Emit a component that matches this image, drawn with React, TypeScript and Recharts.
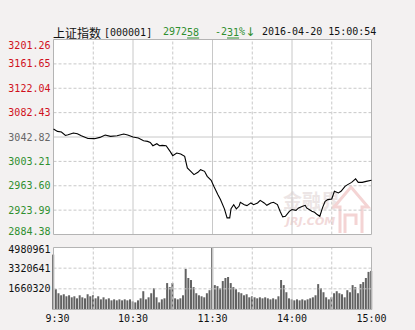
import React from "react";
import { LineChart, Line, BarChart, Bar, XAxis, YAxis, ReferenceLine } from "recharts";

const PREV_CLOSE = 3042.82;
const priceTicks = [2884.38, 2923.99, 2963.6, 3003.21, 3042.82, 3082.43, 3122.04, 3161.65, 3201.26];
const pctLabels = ["-5.21%", "-3.91%", "-2.60%", "-1.30%", "0.00%", "+1.30%", "+2.60%", "+3.91%", "+5.21%"];
const volTicks = [0, 1660320, 3320641, 4980961];
const timeTicks = [0, 60, 120, 180, 240];
const timeLabels = ["9:30", "10:30", "11:30", "14:00", "15:00"];
const halfHours = [30, 90, 150, 210];
const hours = [60, 120, 180];

// minutes since 9:30 (lunch break collapsed) and index level
const priceMinutes = [
  0, 3, 6, 9, 11, 15, 18, 21, 26, 31, 35, 39, 43, 48, 53, 56, 60, 64, 68, 71, 73, 75, 78, 80, 82, 85, 88, 90, 93, 96,
  99, 101, 104, 106, 109, 111, 114, 116, 119, 121, 124, 126, 129, 131, 133, 134, 136, 138, 140, 141, 144, 146, 149, 151,
  154, 156, 159, 161, 164, 166, 169, 171, 173, 175, 178, 180, 183, 185, 188, 190, 191, 195, 197, 199, 201, 203, 205,
  207, 210, 212, 215, 217, 220, 222, 225, 228, 230, 233, 236, 240,
];
const priceValues = [
  3055.8, 3051.9, 3050.9, 3045.4, 3046.6, 3049.3, 3048.2, 3044.9, 3040.5, 3040.1, 3042.2, 3046.1, 3043.8, 3044.9,
  3047.7, 3046.1, 3042.8, 3041.2, 3036.8, 3035.7, 3034.1, 3028.7, 3031.9, 3028.7, 3029.2, 3028.7, 3019.5, 3012.5,
  3016.8, 3015.2, 3011.3, 2992.5, 2986.0, 2981.7, 2985.4, 2989.8, 2987.0, 2978.9, 2972.4, 2962.7, 2949.2, 2941.1,
  2926.0, 2911.4, 2911.4, 2926.5, 2932.9, 2926.0, 2930.2, 2936.7, 2932.9, 2931.3, 2935.7, 2932.9, 2935.7, 2939.9,
  2935.7, 2931.8, 2935.7, 2936.7, 2932.9, 2922.1, 2913.0, 2914.0, 2922.1, 2924.9, 2923.7, 2927.6, 2930.2, 2931.8,
  2927.6, 2922.1, 2920.5, 2916.8, 2914.0, 2927.6, 2938.3, 2941.1, 2942.2, 2954.6, 2951.9, 2954.6, 2962.7, 2965.4,
  2969.1, 2974.7, 2969.1, 2969.1, 2970.7, 2972.6,
];

// one bar every 2 minutes, 9:30 .. 15:00
const volumes = [
  4409400, 1633100, 1306500, 1143200, 1224800, 1061500, 1143200, 979900, 1061500, 898200, 1143200, 979900, 898200,
  1224800, 1061500, 1143200, 898200, 1061500, 816500, 979900, 816500, 898200, 734900, 816500, 734900, 816500, 734900,
  816500, 734900, 816500, 653200, 571600, 734900, 898200, 1469800, 816500, 979900, 1306500, 1714800, 979900, 571600,
  816500, 898200, 2123000, 1796400, 2123000, 898200, 816500, 898200, 1143200, 3266200, 2531300, 2368000, 1796400,
  1306500, 1143200, 1061500, 979900, 1306500, 1551400, 4980961, 1959700, 1878100, 1714800, 2286300, 2531300, 2613000,
  2123000, 1796400, 1633100, 1388100, 1306500, 1143200, 1224800, 979900, 1061500, 979900, 898200, 979900, 898200,
  979900, 898200, 816500, 898200, 816500, 1061500, 2368000, 1959700, 1388100, 898200, 816500, 734900, 816500, 734900,
  816500, 734900, 816500, 898200, 979900, 1143200, 2041400, 1714800, 1388100, 979900, 816500, 979900, 1306500,
  1469800, 1306500, 1224800, 979900, 1551400, 1388100, 1959700, 1796400, 1306500, 2041400, 2204700, 2531300, 3021200,
  3102900,
];

const priceData = priceMinutes.map((t, i) => ({ t, p: priceValues[i] }));
const volData = volumes.map((v, i) => ({ t: i * 2, v }));

const MONO = "'DejaVu Sans Mono', monospace";
const CJK = "'Noto Sans CJK SC', sans-serif";
const RED = "#d0101c";
const GREEN = "#2f8f2f";
const GRAY = "#666";
const GRID = "#c8c8c8";
const BORDER = "#b4b4b4";

const pMin = priceTicks[0];
const pMax = priceTicks[priceTicks.length - 1];

function colorOf(v: number) {
  if (v > PREV_CLOSE + 0.005) return RED;
  if (v < PREV_CLOSE - 0.005) return GREEN;
  return GRAY;
}

function shiftOf(v: number) {
  if (v === pMax) return 5.5;
  if (v === pMin) return -3.5;
  return 0;
}

const PriceTick = ({ x, y, payload }: any) => (
  <text x={x} y={y + shiftOf(payload.value)} textAnchor="end" dominantBaseline="central" fill={colorOf(payload.value)} fontSize={10} fontFamily={MONO}>
    {payload.value.toFixed(2)}
  </text>
);

const PctTick = ({ x, y, payload }: any) => (
  <text x={x} y={y + shiftOf(payload.value)} textAnchor="start" dominantBaseline="central" fill={colorOf(payload.value)} fontSize={10} fontFamily={MONO}>
    {pctLabels[priceTicks.indexOf(payload.value)]}
  </text>
);

const VolTick = ({ x, y, payload }: any) =>
  payload.value === 0 ? null : (
    <text x={x} y={y + (payload.value === volTicks[3] ? 2 : 0)} textAnchor="end" dominantBaseline="central" fill="#111" fontSize={10} fontFamily={MONO}>
      {payload.value}
    </text>
  );

const TimeTick = ({ x, y, payload }: any) => (
  <text x={x + (payload.value === 0 ? 4 : 0)} y={y + 6} textAnchor="middle" dominantBaseline="central" fill="#111" fontSize={10} fontFamily={MONO}>
    {timeLabels[timeTicks.indexOf(payload.value)]}
  </text>
);

const dashed = { stroke: GRID, strokeDasharray: "3 2" };

export default function App() {
  return (
    <div style={{ position: "absolute", left: 0, top: 0, width: 415, height: 330, background: "#f3f1f1", overflow: "hidden" }}>
      {/* panel backgrounds */}
      <div style={{ position: "absolute", left: 53.5, top: 39.5, width: 318, height: 195, background: "#fff" }} />
      <div style={{ position: "absolute", left: 53.5, top: 247.5, width: 318, height: 62, background: "#fff" }} />

      <svg width={415} height={330} style={{ position: "absolute", left: 0, top: 0 }}>
        <text y={31.5} dominantBaseline="central" fontSize={10} fontFamily={MONO} fill="#111">
          <tspan x={53} fontFamily={CJK} fontSize={12}>上证指数</tspan>
          <tspan x={104}>[000001]</tspan>
        </text>
        <text x={163} y={31.5} dominantBaseline="central" fontSize={10} fontFamily={MONO} fill={GREEN}>
          2972<tspan style={{ textDecoration: "underline" }}>58</tspan>
        </text>
        <text x={215} y={31.5} dominantBaseline="central" fontSize={10} fontFamily={MONO} fill={GREEN}>
          -2<tspan style={{ textDecoration: "underline" }}>31</tspan>%
          <tspan fontFamily="'DejaVu Sans', sans-serif" fontSize={12}>↓</tspan>
        </text>
        <text x={262} y={31.5} dominantBaseline="central" fontSize={10} fontFamily={MONO} fill="#111">
          2016-04-20 15:00:54
        </text>
        {/* watermark */}
        <text x={283} y={199} dominantBaseline="central" fontSize={19} fontWeight="bold" fontFamily={CJK} fill="#ece5e5">
          金融界
        </text>
        <text x={286} y={221} dominantBaseline="central" fontSize={11} fontWeight="bold" fontStyle="italic" fontFamily="'DejaVu Sans', sans-serif" fill="#f2dada">
          JRJ.COM
        </text>
        <path d="M340 233 V207 H334 L351 187 L368 207 H362 V233 M345 233 V215 H356 V225" fill="none" stroke="#f4d4d4" strokeWidth={3} />
      </svg>

      <div style={{ position: "absolute", left: 0, top: 0 }}>
        <LineChart width={415} height={245} data={priceData} margin={{ top: 39.5, right: 0, left: 0, bottom: 10.5 }}>
          <XAxis dataKey="t" type="number" domain={[0, 240]} hide />
          <YAxis yAxisId="p" domain={[pMin, pMax]} ticks={priceTicks} width={53.5} axisLine={false} tickLine={false} tickSize={0} tickMargin={3} tick={<PriceTick />} interval={0} />
          <YAxis yAxisId="r" orientation="right" domain={[pMin, pMax]} ticks={priceTicks} width={43.5} axisLine={false} tickLine={false} tickSize={0} tickMargin={2} tick={<PctTick />} interval={0} />
          {priceTicks.slice(1, -1).map((v) => (
            <ReferenceLine key={"h" + v} yAxisId="p" y={v} {...(v === PREV_CLOSE ? { stroke: GRID } : dashed)} />
          ))}
          {halfHours.map((m) => (
            <ReferenceLine key={"d" + m} yAxisId="p" x={m} {...dashed} />
          ))}
          {hours.map((m) => (
            <ReferenceLine key={"s" + m} yAxisId="p" x={m} stroke={GRID} />
          ))}
          <ReferenceLine yAxisId="p" y={pMin} stroke={BORDER} />
          <ReferenceLine yAxisId="p" y={pMax} stroke={BORDER} />
          <ReferenceLine yAxisId="p" x={0} stroke={BORDER} />
          <ReferenceLine yAxisId="p" x={240} stroke={BORDER} />
          <Line yAxisId="p" type="linear" dataKey="p" stroke="#000" strokeWidth={1.1} dot={false} isAnimationActive={false} />
        </LineChart>
      </div>

      <div style={{ position: "absolute", left: 0, top: 0 }}>
        <BarChart width={415} height={330} data={volData} margin={{ top: 247.5, right: 43.5, left: 0, bottom: 0 }}>
          <XAxis dataKey="t" type="number" domain={[0, 240]} ticks={timeTicks} height={20.5} axisLine={false} tickLine={false} tickSize={0} tickMargin={3} tick={<TimeTick />} interval={0} />
          <YAxis domain={[0, volTicks[3]]} ticks={volTicks} width={53.5} axisLine={false} tickLine={false} tickSize={0} tickMargin={3} tick={<VolTick />} interval={0} />
          {volTicks.slice(1, -1).map((v) => (
            <ReferenceLine key={"vh" + v} y={v} {...dashed} />
          ))}
          {halfHours.map((m) => (
            <ReferenceLine key={"vd" + m} x={m} {...dashed} />
          ))}
          {hours.map((m) => (
            <ReferenceLine key={"vs" + m} x={m} stroke={GRID} />
          ))}
          <Bar dataKey="v" fill="#626262" barSize={2} isAnimationActive={false} />
          <ReferenceLine y={0} stroke={BORDER} />
          <ReferenceLine y={volTicks[3]} stroke={BORDER} />
          <ReferenceLine x={0} stroke={BORDER} />
          <ReferenceLine x={240} stroke={BORDER} />
        </BarChart>
      </div>
    </div>
  );
}
